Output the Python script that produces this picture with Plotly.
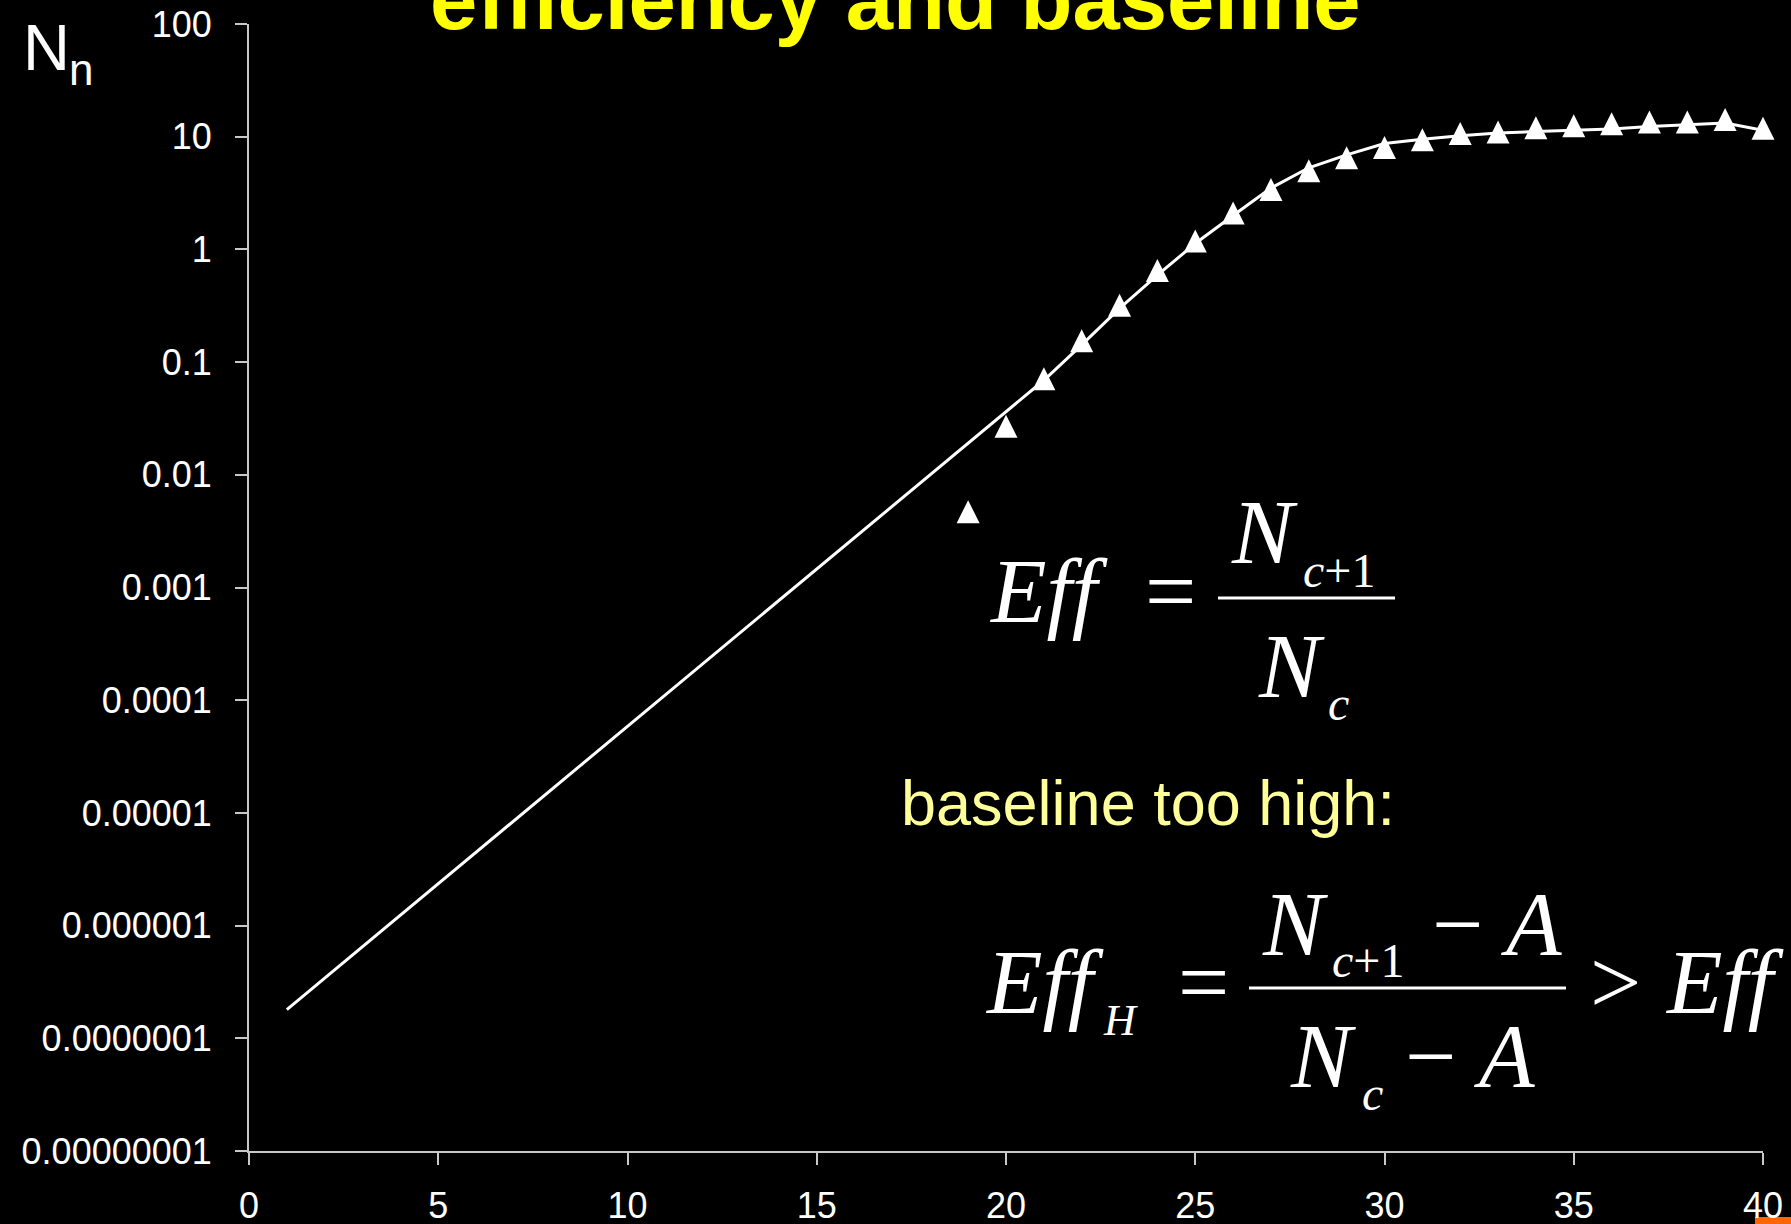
import plotly.graph_objects as go

# ---- data ----
cycles = [19, 20, 21, 22, 23, 24, 25, 26, 27, 28, 29, 30, 31, 32, 33, 34, 35, 36, 37, 38, 39, 40]
measured = [0.0047, 0.027, 0.071, 0.155, 0.32, 0.65, 1.19, 2.1, 3.4, 5.0, 6.5, 8.0, 9.4, 10.7,
            11.0, 12.0, 12.5, 13.0, 13.5, 13.5, 14.2, 11.9]

fit_cycles = [1, 21, 22, 23, 24, 25, 26, 27, 28, 29, 30, 31, 32, 33, 34, 35, 36, 37, 38, 39, 40]
fit_values = [1.8e-7, 0.069, 0.142, 0.30, 0.59, 1.13, 2.0, 3.5, 5.3, 6.9, 8.7, 9.5, 10.2, 10.8,
              11.1, 11.4, 11.7, 12.3, 12.7, 13.2, 11.4]

x_ticks = [0, 5, 10, 15, 20, 25, 30, 35, 40]
y_tickvals = [1e-8, 1e-7, 1e-6, 1e-5, 1e-4, 1e-3, 1e-2, 1e-1, 1, 10, 100]
y_ticktext = ["0.00000001", "0.0000001", "0.000001", "0.00001", "0.0001", "0.001",
              "0.01", "0.1", "1", "10", "100"]

title_text = "efficiency and baseline"
note_text = "baseline too high:"

# ---- figure geometry (pixels) ----
W, H = 1791, 1224
ML, MR, MT, MB = 249, 28, 24, 73
PW = W - ML - MR
PH = H - MT - MB

SANS = "Liberation Sans, Arial, sans-serif"
SERIF = "Liberation Serif, Times New Roman, serif"


def px(x):
    return (x - ML) / PW


def py(y):
    return (H - MB - y) / PH


annotations = []


def label(text, cx, baseline, size, family, color="white", anchor="center", asc=0.905, desc=0.212):
    yc = baseline - (asc - desc) / 2 * size
    annotations.append(dict(
        text=text, x=px(cx), y=py(yc), xref="paper", yref="paper",
        xanchor=anchor, yanchor="middle", showarrow=False,
        font=dict(family=family, size=size, color=color),
    ))


def serif(text, cx, baseline, size):
    label(text, cx, baseline, size, SERIF, asc=0.891, desc=0.216)


fig = go.Figure()

fig.add_trace(go.Scatter(
    x=fit_cycles, y=fit_values, mode="lines",
    line=dict(color="white", width=3), cliponaxis=False, showlegend=False,
))
MS = 23
fig.add_trace(go.Scatter(
    x=cycles, y=measured, mode="markers",
    marker=dict(symbol="arrow-down", angle=180, standoff=MS / 2, size=MS, color="white",
                line=dict(width=0)),
    cliponaxis=False, showlegend=False,
))

# title (cut off at the top) and axis label
label("<b>" + title_text + "</b>", 895, 29, 85, SANS, color="#FFFF00")
label("N", 46, 70, 65, SANS)
label("n", 81, 85, 44, SANS)
label(note_text, 1148, 825, 63, SANS, color="#FFFF99")

# formula 1: Eff = N_{c+1} / N_c
serif("<i>Eff</i>", 1048, 622, 91)
serif("=", 1170, 622, 91)
serif("<i>N</i>", 1264, 563, 92)
serif("<i>c</i>+1", 1339, 587, 48)
serif("<i>N</i>", 1291, 697, 92)
serif("<i>c</i>", 1338, 720, 48)

# formula 2: Eff_H = (N_{c+1} - A) / (N_c - A) > Eff
serif("<i>Eff</i>", 1044, 1013, 91)
serif("<i>H</i>", 1120, 1035, 44)
serif("=", 1203, 1013, 91)
serif("<i>N</i>", 1295, 955, 91)
serif("<i>c</i>+1", 1368, 977, 48)
serif("\u2212", 1457, 955, 91)
serif("<i>A</i>", 1531, 955, 91)
serif("<i>N</i>", 1323, 1087, 91)
serif("<i>c</i>", 1372, 1110, 48)
serif("\u2212", 1430, 1087, 91)
serif("<i>A</i>", 1504, 1087, 91)
serif("&gt;", 1615, 1013, 91)
serif("<i>Eff</i>", 1724, 1013, 91)

shapes = [
    dict(type="line", xref="paper", yref="paper", x0=px(1218), x1=px(1395), y0=py(598), y1=py(598),
         line=dict(color="white", width=3)),
    dict(type="line", xref="paper", yref="paper", x0=px(1249), x1=px(1566), y0=py(988), y1=py(988),
         line=dict(color="white", width=3)),
    dict(type="rect", xref="paper", yref="paper", x0=px(1755), x1=px(1795), y0=py(1217), y1=py(1230),
         fillcolor="#FF6600", line=dict(width=0), layer="below"),
]

axis_color = "#C8C8C8"
fig.update_layout(
    width=W, height=H,
    margin=dict(l=ML, r=MR, t=MT, b=MB, pad=0, autoexpand=False),
    paper_bgcolor="black", plot_bgcolor="black",
    font=dict(family=SANS, color="white"),
    annotations=annotations,
    shapes=shapes,
    xaxis=dict(
        range=[0, 40], tickvals=x_ticks, ticktext=[str(v) for v in x_ticks],
        showgrid=False, zeroline=False, showline=True, linecolor=axis_color, linewidth=2,
        ticks="outside", ticklen=12, tickwidth=1.5, tickcolor=axis_color, automargin=False,
        tickfont=dict(family=SANS, size=36, color="white"), ticklabelstandoff=10,
    ),
    yaxis=dict(
        type="log", range=[-8, 2], tickvals=y_tickvals, ticktext=y_ticktext,
        showgrid=False, zeroline=False, showline=True, linecolor=axis_color, linewidth=2,
        ticks="outside", ticklen=12, tickwidth=1.5, tickcolor=axis_color, automargin=False,
        tickfont=dict(family=SANS, size=36, color="white"), ticklabelstandoff=16,
    ),
)

fig.write_html(
    "out.html",
    config={"displayModeBar": False},
    post_script="document.body.style.margin='0';document.body.style.background='black';",
)
